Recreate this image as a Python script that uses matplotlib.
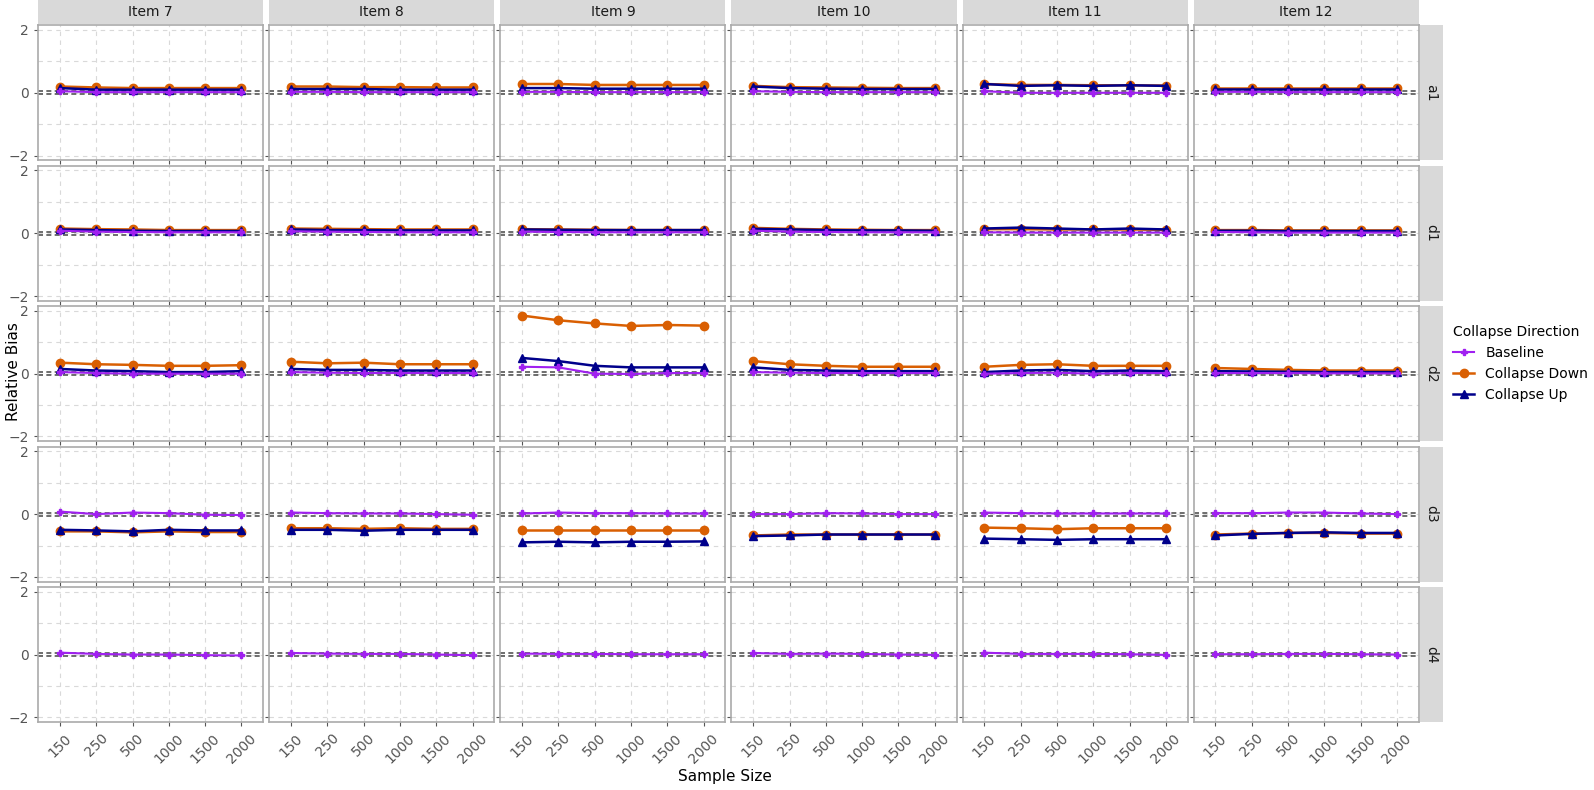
import numpy as np
import matplotlib.pyplot as plt

sizes = ["150", "250", "500", "1000", "1500", "2000"]
items = ["Item 7", "Item 8", "Item 9", "Item 10", "Item 11", "Item 12"]
params = ["a1", "d1", "d2", "d3", "d4"]

# baseline / collapse down / collapse up, per parameter, per item
baseline = {
    "a1": [[.05, .02, .02, .02, .02, .02], [.03, .03, .02, .02, .02, .02], [.03, .03, .02, .02, .02, .02],
           [.05, .03, .02, .02, .02, .02], [.05, 0, 0, 0, 0, 0], [.03, .03, .02, .02, .02, .02]],
    "d1": [[.08, .05, .04, .03, .03, .03], [.06, .05, .04, .03, .03, .03], [.05, .04, .03, .03, .03, .03],
           [.08, .05, .04, .03, .03, .03], [.03, .02, .02, .02, .02, .02], [.04, .03, .02, .02, .02, .02]],
    "d2": [[.05, .02, 0, 0, 0, 0], [.05, .03, .02, .02, .02, .02], [.22, .2, 0, -.01, .02, .02],
           [.05, .03, .02, .02, .02, .02], [0, .02, .03, 0, .02, .02], [.02, .02, .02, .01, .01, .01]],
    "d3": [[.08, 0, .05, .03, -.02, -.03], [.05, .03, .02, .02, 0, -.02], [.02, .05, .03, .03, .02, .02],
           [0, 0, .03, .02, 0, 0], [.05, .03, .02, .02, .02, .02], [.03, .03, .05, .05, .02, 0]],
    "d4": [[.06, .02, 0, 0, -.02, -.03], [.05, .03, .02, .02, 0, -.02], [.03, .02, .02, .01, .01, .01],
           [.05, .02, .03, .02, 0, -.01], [.06, .02, .02, .02, .01, -.01], [.01, .01, .02, .02, .01, 0]],
}
down = {
    "a1": [[.2, .17, .15, .15, .15, .15], [.2, .2, .18, .18, .17, .17], [.28, .28, .25, .25, .25, .25],
           [.22, .18, .17, .16, .15, .15], [.28, .25, .25, .24, .24, .23], [.15, .15, .15, .15, .15, .15]],
    "d1": [[.15, .13, .12, .1, .1, .1], [.15, .14, .13, .12, .12, .12], [.13, .12, .11, .1, .1, .1],
           [.17, .14, .12, .11, .1, .1], [.13, .13, .12, .12, .12, .11], [.1, .1, .09, .09, .09, .09]],
    "d2": [[.35, .3, .28, .25, .25, .27], [.38, .33, .35, .3, .3, .3], [1.85, 1.7, 1.6, 1.52, 1.55, 1.53],
           [.4, .3, .25, .22, .22, .22], [.22, .28, .3, .25, .25, .25], [.18, .15, .12, .1, .1, .1]],
    "d3": [[-.55, -.55, -.58, -.55, -.57, -.57], [-.45, -.45, -.47, -.45, -.47, -.47], [-.5, -.5, -.5, -.5, -.5, -.5],
           [-.68, -.65, -.65, -.65, -.65, -.65], [-.43, -.45, -.48, -.45, -.45, -.45], [-.65, -.62, -.6, -.6, -.62, -.62]],
}
up = {
    "a1": [[.15, .1, .1, .1, .1, .1], [.12, .12, .12, .1, .1, .1], [.15, .15, .13, .13, .13, .13],
           [.2, .15, .13, .12, .12, .12], [.28, .22, .24, .22, .24, .22], [.12, .12, .12, .12, .12, .12]],
    "d1": [[.12, .1, .08, .07, .07, .07], [.12, .1, .1, .09, .09, .09], [.12, .11, .1, .1, .1, .1],
           [.14, .12, .1, .09, .09, .08], [.15, .18, .15, .12, .15, .12], [.08, .08, .07, .07, .07, .07]],
    "d2": [[.15, .1, .08, .05, .05, .08], [.15, .12, .12, .1, .1, .1], [.5, .4, .25, .2, .2, .2],
           [.2, .12, .1, .08, .08, .08], [.05, .1, .12, .08, .1, .08], [.08, .07, .06, .05, .05, .05]],
    "d3": [[-.5, -.52, -.55, -.5, -.52, -.52], [-.5, -.5, -.53, -.5, -.5, -.5], [-.9, -.88, -.9, -.88, -.88, -.87],
           [-.7, -.68, -.65, -.65, -.65, -.65], [-.78, -.8, -.82, -.8, -.8, -.8], [-.68, -.63, -.6, -.58, -.6, -.6]],
}

c_base, c_down, c_up = "#A020F0", "#D95F02", "#00008B"

fig, axes = plt.subplots(5, 6, figsize=(15.94, 7.9), dpi=100, sharex=True, sharey=True)
fig.subplots_adjust(left=0.024, right=0.89, top=0.968, bottom=0.086, wspace=0.027, hspace=0.04)

x = np.arange(len(sizes))
for r, p in enumerate(params):
    for c, it in enumerate(items):
        ax = axes[r, c]
        ax.set_ylim(-2.15, 2.15)
        ax.set_xlim(-0.6, 5.6)
        ax.set_yticks([-2, 0, 2])
        ax.set_yticks([-1, 1], minor=True)
        ax.set_xticks(x)
        ax.set_xticklabels(sizes, rotation=45)
        ax.grid(True, which="both", color="#d9d9d9", linestyle=(0, (4, 4)), linewidth=0.8)
        ax.set_axisbelow(True)
        for s in ax.spines.values():
            s.set_color("#aaaaaa")
            s.set_linewidth(1.2)
        ax.tick_params(colors="#555555", labelsize=10, length=3)
        ax.tick_params(which="minor", length=0)
        for h in (-0.05, 0.05):
            ax.axhline(h, color="#555555", linestyle=(0, (3, 2)), linewidth=1.2, zorder=1)
        if p in down:
            ax.plot(x, down[p][c], color=c_down, marker="o", markersize=6, linewidth=1.8, zorder=3)
            ax.plot(x, up[p][c], color=c_up, marker="^", markersize=6, linewidth=1.8, zorder=3)
        ax.plot(x, baseline[p][c], color=c_base, marker="P", markersize=4, linewidth=1.5, zorder=4)

fig.canvas.draw()
for c, it in enumerate(items):
    pos = axes[0, c].get_position()
    sax = fig.add_axes([pos.x0, pos.y1 + 0.002, pos.width, 0.03])
    sax.set_facecolor("#d9d9d9")
    sax.set_xticks([]); sax.set_yticks([])
    for s in sax.spines.values():
        s.set_visible(False)
    sax.text(0.5, 0.5, it, ha="center", va="center", fontsize=10, color="#1a1a1a", transform=sax.transAxes)
for r, p in enumerate(params):
    pos = axes[r, -1].get_position()
    sax = fig.add_axes([pos.x1 + 0.001, pos.y0, 0.014, pos.height])
    sax.set_facecolor("#d9d9d9")
    sax.set_xticks([]); sax.set_yticks([])
    for s in sax.spines.values():
        s.set_visible(False)
    sax.text(0.5, 0.5, p, ha="center", va="center", rotation=270, fontsize=10, color="#1a1a1a", transform=sax.transAxes)

fig.text(0.455, 0.008, "Sample Size", ha="center", va="bottom", fontsize=11)
fig.text(0.004, 0.53, "Relative Bias", ha="left", va="center", rotation=90, fontsize=11)

handles = [
    plt.Line2D([], [], color=c_base, marker="P", markersize=5, linewidth=1.5),
    plt.Line2D([], [], color=c_down, marker="o", markersize=6, linewidth=1.8),
    plt.Line2D([], [], color=c_up, marker="^", markersize=6, linewidth=1.8),
]
fig.legend(handles, ["Baseline", "Collapse Down", "Collapse Up"], title="Collapse Direction",
           loc="center left", bbox_to_anchor=(0.904, 0.54), frameon=False, fontsize=10,
           title_fontsize=10, handlelength=1.5, alignment="left")

fig.savefig("out.png", dpi=100)
